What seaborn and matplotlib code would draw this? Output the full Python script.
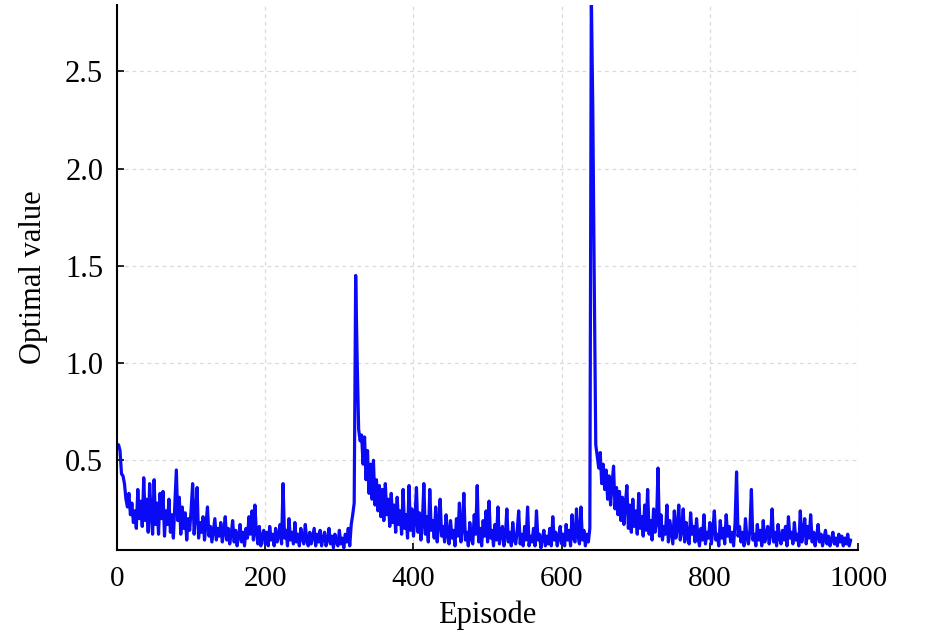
"""Optimal value per training episode."""

import matplotlib
matplotlib.use("Agg")
import matplotlib.pyplot as plt
import numpy as np
import pandas as pd
import seaborn as sns


# episodes sampled every 2 steps
EPISODES = np.arange(0, 992, 2)

# ep 0 - 318
phase_one = [
    0.57, 0.58, 0.55, 0.43, 0.42, 0.38, 0.30, 0.26, 0.33, 0.22,
    0.28, 0.18, 0.24, 0.15, 0.35, 0.20, 0.29, 0.16, 0.41, 0.19,
    0.30, 0.13, 0.38, 0.22, 0.12, 0.40, 0.17, 0.28, 0.12, 0.33,
    0.20, 0.34, 0.11, 0.24, 0.17, 0.30, 0.13, 0.22, 0.10, 0.27,
    0.45, 0.19, 0.31, 0.12, 0.26, 0.15, 0.23, 0.09, 0.20, 0.14,
    0.25, 0.38, 0.12, 0.22, 0.36, 0.10, 0.18, 0.13, 0.21, 0.09,
    0.17, 0.26, 0.11, 0.16, 0.08, 0.14, 0.20, 0.09, 0.15, 0.11,
    0.18, 0.08, 0.13, 0.21, 0.09, 0.15, 0.07, 0.12, 0.19, 0.08,
    0.14, 0.06, 0.11, 0.17, 0.08, 0.13, 0.06, 0.15, 0.10, 0.21,
    0.12, 0.24, 0.09, 0.27, 0.13, 0.07, 0.16, 0.06, 0.11, 0.14,
    0.07, 0.13, 0.06, 0.16, 0.09, 0.12, 0.06, 0.15, 0.08, 0.11,
    0.17, 0.07, 0.38, 0.10, 0.14, 0.06, 0.20, 0.09, 0.13, 0.07,
    0.18, 0.08, 0.12, 0.06, 0.15, 0.10, 0.07, 0.17, 0.09, 0.06,
    0.13, 0.07, 0.11, 0.15, 0.06, 0.12, 0.08, 0.14, 0.06, 0.10,
    0.13, 0.06, 0.09, 0.15, 0.07, 0.11, 0.05, 0.12, 0.08, 0.06,
    0.14, 0.07, 0.10, 0.05, 0.12, 0.08, 0.15, 0.06, 0.17, 0.22,
]

# ep 320 - 638
phase_two = [
    0.28, 1.45, 1.02, 0.66, 0.60, 0.63, 0.48, 0.62, 0.40, 0.55,
    0.33, 0.48, 0.30, 0.50, 0.27, 0.40, 0.24, 0.37, 0.21, 0.35,
    0.19, 0.38, 0.22, 0.30, 0.16, 0.33, 0.18, 0.27, 0.13, 0.31,
    0.17, 0.24, 0.12, 0.35, 0.15, 0.22, 0.10, 0.37, 0.14, 0.25,
    0.11, 0.20, 0.36, 0.13, 0.23, 0.09, 0.18, 0.38, 0.12, 0.21,
    0.08, 0.35, 0.14, 0.19, 0.10, 0.26, 0.08, 0.17, 0.30, 0.11,
    0.16, 0.08, 0.22, 0.12, 0.07, 0.19, 0.10, 0.14, 0.06, 0.20,
    0.11, 0.28, 0.08, 0.15, 0.33, 0.09, 0.13, 0.06, 0.18, 0.10,
    0.07, 0.22, 0.12, 0.37, 0.08, 0.15, 0.06, 0.19, 0.11, 0.24,
    0.08, 0.29, 0.10, 0.14, 0.06, 0.17, 0.09, 0.26, 0.07, 0.12,
    0.16, 0.06, 0.11, 0.25, 0.08, 0.13, 0.06, 0.18, 0.09, 0.07,
    0.14, 0.24, 0.07, 0.12, 0.06, 0.16, 0.09, 0.26, 0.06, 0.11,
    0.08, 0.15, 0.06, 0.24, 0.09, 0.12, 0.05, 0.10, 0.14, 0.06,
    0.11, 0.07, 0.15, 0.06, 0.21, 0.09, 0.13, 0.06, 0.10, 0.16,
    0.07, 0.12, 0.06, 0.17, 0.09, 0.14, 0.06, 0.22, 0.10, 0.08,
    0.25, 0.11, 0.07, 0.26, 0.09, 0.14, 0.06, 0.12, 0.08, 0.15,
]

# ep 640 - 990
phase_three = [
    2.90, 2.30, 1.40, 0.58, 0.52, 0.46, 0.54, 0.38, 0.48, 0.35,
    0.45, 0.30, 0.42, 0.27, 0.38, 0.47, 0.25, 0.36, 0.22, 0.34,
    0.19, 0.31, 0.17, 0.28, 0.37, 0.15, 0.27, 0.13, 0.30, 0.16,
    0.24, 0.12, 0.33, 0.15, 0.21, 0.11, 0.27, 0.14, 0.35, 0.12,
    0.19, 0.09, 0.25, 0.13, 0.18, 0.46, 0.11, 0.22, 0.09, 0.16,
    0.12, 0.27, 0.08, 0.19, 0.13, 0.07, 0.24, 0.10, 0.15, 0.27,
    0.09, 0.14, 0.25, 0.08, 0.18, 0.11, 0.07, 0.23, 0.12, 0.16,
    0.08, 0.20, 0.10, 0.06, 0.15, 0.09, 0.22, 0.07, 0.13, 0.10,
    0.18, 0.07, 0.14, 0.24, 0.09, 0.12, 0.06, 0.19, 0.10, 0.15,
    0.07, 0.22, 0.11, 0.16, 0.08, 0.13, 0.06, 0.18, 0.44, 0.11,
    0.16, 0.08, 0.13, 0.06, 0.20, 0.10, 0.07, 0.14, 0.35, 0.09,
    0.12, 0.06, 0.17, 0.09, 0.14, 0.06, 0.19, 0.08, 0.11, 0.16,
    0.07, 0.12, 0.25, 0.08, 0.13, 0.06, 0.17, 0.10, 0.07, 0.14,
    0.09, 0.16, 0.06, 0.21, 0.10, 0.13, 0.07, 0.18, 0.09, 0.12,
    0.06, 0.24, 0.08, 0.13, 0.20, 0.07, 0.16, 0.10, 0.22, 0.08,
    0.13, 0.06, 0.11, 0.17, 0.08, 0.12, 0.06, 0.10, 0.14, 0.07,
    0.11, 0.06, 0.09, 0.13, 0.07, 0.10, 0.06, 0.12, 0.08, 0.11,
    0.06, 0.10, 0.07, 0.12, 0.06, 0.09,
]

X_TICKS = [0, 200, 400, 600, 800, 1000]
Y_TICKS = [0.5, 1.0, 1.5, 2.0, 2.5]

values = phase_one + phase_two + phase_three
df = pd.DataFrame({"Episode": EPISODES, "Optimal value": values})

sns.set_style("ticks")
plt.rcParams["font.family"] = ["Liberation Serif", "DejaVu Serif"]
plt.rcParams["text.color"] = "black"
plt.rcParams["axes.labelcolor"] = "black"
plt.rcParams["xtick.color"] = "black"
plt.rcParams["ytick.color"] = "black"

fig = plt.figure(figsize=(9.44, 6.43), dpi=100)
ax = fig.add_axes([0.124, 0.145, 0.785, 0.847])

sns.lineplot(data=df, x="Episode", y="Optimal value", color="#0a0af5",
             linewidth=2.3, ax=ax)

ax.set_xlim(0, 1000)
ax.set_ylim(0.04, 2.84)
ax.set_xticks(X_TICKS)
ax.set_yticks(Y_TICKS)
ax.set_yticklabels([f"{v:.1f}" for v in Y_TICKS])
ax.grid(True, linestyle=(0, (3, 3)), color="#dadada", linewidth=0.9)
ax.set_axisbelow(True)

ax.tick_params(direction="in", length=5, width=1.2, pad=10)
ax.tick_params(axis="x", labelsize=21, pad=12)
ax.tick_params(axis="y", labelsize=22)
for side in ["left", "bottom"]:
    ax.spines[side].set_linewidth(1.5)
    ax.spines[side].set_color("black")
sns.despine(ax=ax)

ax.set_xlabel("Episode", fontsize=22, labelpad=6)
ax.set_ylabel("Optimal value", fontsize=22, labelpad=12)

fig.savefig("out.png", dpi=100)
plt.close(fig)
